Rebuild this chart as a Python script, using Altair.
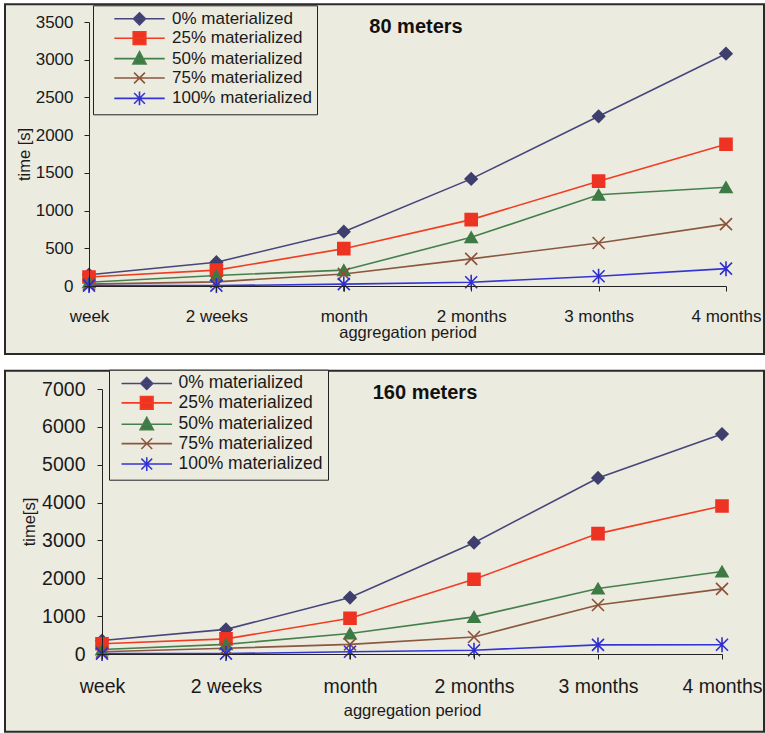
import altair as alt
import pandas as pd

FONT = "Liberation Sans"
BG = "#ECEBE0"
INK = "#1a1a1a"

periods = ["week", "2 weeks", "month", "2 months", "3 months", "4 months"]
series = ["0% materialized", "25% materialized", "50% materialized",
          "75% materialized", "100% materialized"]

# 80 meters
top_0 = [150, 315, 720, 1420, 2250, 3080]
top_25 = [120, 210, 495, 880, 1390, 1880]
top_50 = [50, 140, 210, 645, 1210, 1310]
top_75 = [25, 55, 160, 360, 570, 820]
top_100 = [5, 5, 25, 50, 130, 230]

# 160 meters
bot_0 = [355, 650, 1490, 2940, 4650, 5810]
bot_25 = [270, 400, 945, 1975, 3180, 3910]
bot_50 = [120, 255, 540, 980, 1730, 2180]
bot_75 = [60, 150, 255, 450, 1295, 1720]
bot_100 = [10, 10, 60, 100, 240, 245]

line_colors = ["#46467A", "#F23C22", "#45804C", "#8B573E", "#3434D4"]
marker_colors = ["#3F3F6E", "#EE3322", "#3E7A44", "#8B5037", "#2E2ED0"]
marker_shapes = ["diamond", "square", "triangle-up",
                 "M-1,-1L1,1M-1,1L1,-1",
                 "M-1,-1L1,1M-1,1L1,-1M0,-1.25L0,1.25"]
legend_shapes = [
    "M-4.2,0L4.2,0M0,-1L1,0L0,1L-1,0Z",
    "M-4.2,0L4.2,0M-1.05,-1.05L1.05,-1.05L1.05,1.05L-1.05,1.05Z",
    "M-4.2,0L4.2,0M0,-1.15L1.1,0.9L-1.1,0.9Z",
    "M-4.2,0L4.2,0M-0.9,-0.9L0.9,0.9M-0.9,0.9L0.9,-0.9",
    "M-4.2,0L4.2,0M-0.9,-0.9L0.9,0.9M-0.9,0.9L0.9,-0.9M0,-1.15L0,1.15",
]


def long_frame(cols):
    rows = []
    for s, vals in zip(series, cols):
        for i, (p, v) in enumerate(zip(periods, vals)):
            rows.append({"period": p, "series": s, "value": v, "i": i})
    return pd.DataFrame(rows)


def panel(df, title, ymax, ystep, W, H, ytitle, tick_fs, title_fs,
          x_lab_pad, x_title_pad, y_lab_pad, y_title_pad, shift,
          rect_box, title_pos, leg):
    xscale = alt.Scale(type="point", padding=0, rangeMin=shift) if shift else \
        alt.Scale(type="point", padding=0)
    x = alt.X("period:N", sort=periods, scale=xscale,
              axis=alt.Axis(title="aggregation period", labelAngle=0,
                            tickSize=5, labelPadding=x_lab_pad,
                            labelFontSize=tick_fs, titleFontSize=title_fs,
                            titleFontWeight="normal", titlePadding=x_title_pad,
                            labelOverlap=False, zindex=1, grid=False,
                            domainColor="#222", tickColor="#222",
                            labelColor=INK, titleColor=INK))
    y = alt.Y("value:Q",
              scale=alt.Scale(domain=[0, ymax], nice=False, zero=True),
              axis=alt.Axis(title=ytitle, format="d", offset=-shift,
                            values=list(range(0, ymax + 1, ystep)),
                            tickSize=5, labelPadding=y_lab_pad,
                            labelFontSize=tick_fs, titleFontSize=title_fs,
                            titleFontWeight="normal", titlePadding=y_title_pad,
                            zindex=1, grid=False,
                            domainColor="#222", tickColor="#222",
                            labelColor=INK, titleColor=INK))

    legend = alt.Legend(title=None, orient="none",
                        legendX=leg["x"], legendY=leg["y"],
                        strokeColor="#222", fillColor=BG,
                        padding=leg["pad"], symbolOffset=leg["so"],
                        labelOffset=leg["lo"], labelFontSize=leg["fs"],
                        labelColor=INK, rowPadding=leg["rp"],
                        symbolStrokeWidth=1.6, symbolSize=144,
                        symbolOpacity=1, labelLimit=400)

    # hidden layer (under the panel background) that only carries the legend
    dummy = alt.Chart(df).mark_point(filled=True, size=144, strokeWidth=1.6).encode(
        x=x, y=y,
        fill=alt.Fill("series:N", scale=alt.Scale(domain=series, range=marker_colors), legend=legend),
        stroke=alt.Stroke("series:N", scale=alt.Scale(domain=series, range=line_colors), legend=legend),
        shape=alt.Shape("series:N", scale=alt.Scale(domain=series, range=legend_shapes), legend=legend),
    )

    x0, x1, y0, y1 = rect_box
    bg = alt.Chart(pd.DataFrame({"k": [0]})).mark_rect(
        fill=BG, stroke="#2a2a2a", strokeWidth=2
    ).encode(x=alt.value(x0), x2=alt.value(W + x1),
             y=alt.value(y0), y2=alt.value(H + y1))

    lines = alt.Chart(df).mark_line(strokeWidth=1.6).encode(
        x=x, y=y, order="i:Q",
        color=alt.Color("series:N", scale=alt.Scale(domain=series, range=line_colors), legend=None),
    )

    marker_layers = []
    for s, shp, col in zip(series, marker_shapes, marker_colors):
        marker_layers.append(
            alt.Chart(df).transform_filter(alt.datum.series == s).mark_point(
                shape=shp, filled=True, fill=col, stroke=col, size=144,
                strokeWidth=1.6, opacity=1
            ).encode(x=x, y=y)
        )

    ttl = alt.Chart(pd.DataFrame({"t": [title]})).mark_text(
        font=FONT, fontSize=20, fontWeight="bold", color="#111",
        align="center", baseline="middle"
    ).encode(x=alt.value(title_pos[0]), y=alt.value(title_pos[1]), text="t:N")

    return alt.layer(dummy, bg, lines, *marker_layers, ttl).properties(width=W, height=H)


top_df = long_frame([top_0, top_25, top_50, top_75, top_100])
bot_df = long_frame([bot_0, bot_25, bot_50, bot_75, bot_100])

top = panel(top_df, "80 meters", 3500, 500, 637, 264, "time [s]",
            17, 16.5, 17, 0, 11, 3, 0,
            (-84, 38, -17.7, 68), (327, 4.5),
            {"x": 4, "y": -16.7, "pad": 5, "so": 33, "lo": 24, "fs": 17, "rp": 0.4})

bot = panel(bot_df, "160 meters", 7000, 1000, 633, 265, "time[s]",
            19.5, 16.5, 18, 7, 12, 4, 13,
            (-84, 42, -18.3, 77.7), (336, 4),
            {"x": 20, "y": -19.3, "pad": 5, "so": 24, "lo": 23, "fs": 17.5, "rp": 0.4})

chart = alt.vconcat(top, bot, spacing=14).resolve_scale(
    fill="independent", stroke="independent", shape="independent", color="independent"
).resolve_legend(
    fill="independent", stroke="independent", shape="independent", color="independent"
).properties(
    padding={"left": 4, "top": 3, "right": 0, "bottom": 1}
).configure(
    background="white", font=FONT
).configure_view(stroke=None).configure_axis(labelFont=FONT, titleFont=FONT).configure_legend(labelFont=FONT)

chart.save("out.html", embed_options={"renderer": "svg", "actions": False})
